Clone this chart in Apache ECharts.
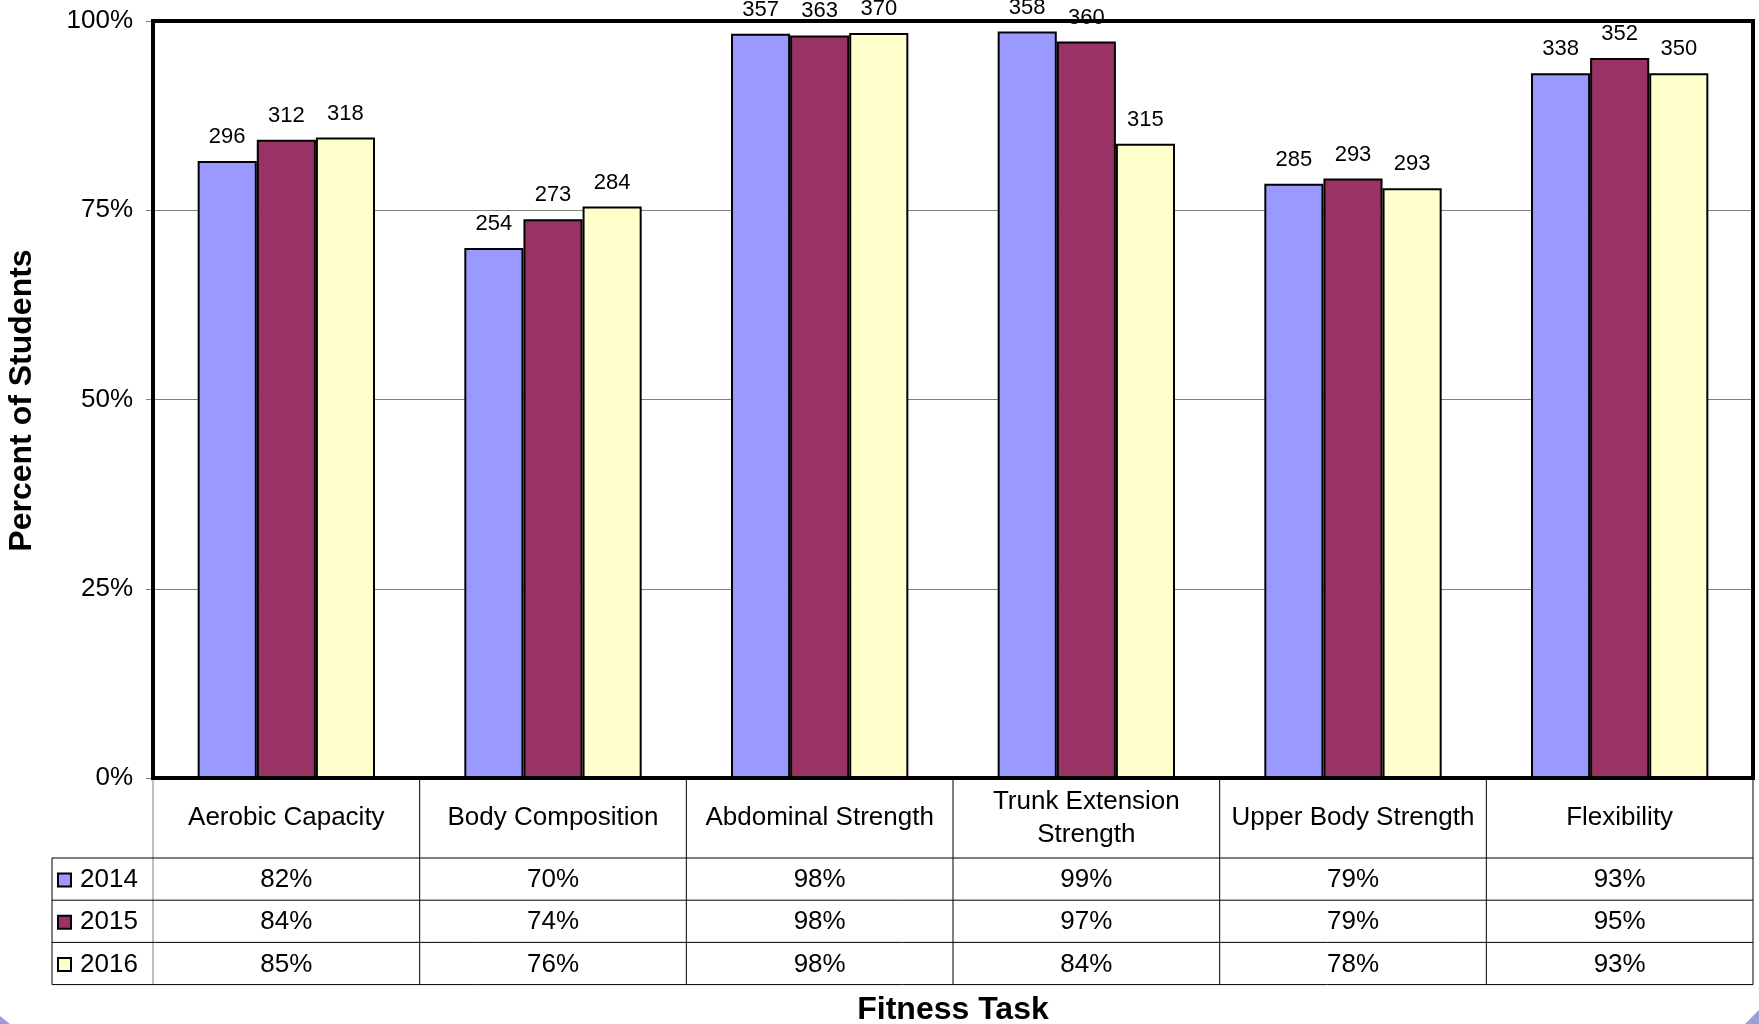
<!DOCTYPE html>
<html>
<head>
<meta charset="utf-8">
<script src="https://cdn.jsdelivr.net/npm/echarts@6/dist/echarts.min.js"></script>
<style>
  html, body { margin: 0; padding: 0; background: #ffffff; }
  #chart { width: 1759px; height: 1024px; }
</style>
</head>
<body>
<div id="chart"></div>
<script>
// Fitness tasks (x categories) and test years
const categories = ['Aerobic Capacity', 'Body Composition', 'Abdominal Strength',
                    'Trunk Extension\nStrength', 'Upper Body Strength', 'Flexibility'];
const years = ['2014', '2015', '2016'];

// Percent of students in the healthy fitness zone
const pct2014 = [81.5, 70.0, 98.3, 98.6, 78.5, 93.1];
const pct2015 = [84.3, 73.8, 98.1, 97.3, 79.2, 95.1];
const pct2016 = [84.6, 75.5, 98.4, 83.8, 77.9, 93.1];

// Number of students (shown above each bar)
const count2014 = [296, 254, 357, 358, 285, 338];
const count2015 = [312, 273, 363, 360, 293, 352];
const count2016 = [318, 284, 370, 315, 293, 350];

// Value-axis tick labels
const yTickValues = [0, 25, 50, 75, 100];
const yTickLabels = ['0%', '25%', '50%', '75%', '100%'];

const seriesColors = ['#9999FF', '#993366', '#FFFFCC'];
const pctByYear = [pct2014, pct2015, pct2016];
const countByYear = [count2014, count2015, count2016];

const FONT = '"Liberation Sans", Arial, Helvetica, sans-serif';

const chart = echarts.init(document.getElementById('chart'), null, { renderer: 'canvas' });

const GRID = { left: 153, right: 6, top: 21, bottom: 246 };
const CAT_ROW_H = 80;     // height of the category-name row under the plot
const VAL_ROW_H = 42.2;   // height of each data-table row
const TABLE_LEFT = 52;    // left edge of the legend column

const option = {
  backgroundColor: '#ffffff',
  animation: false,
  textStyle: { fontFamily: FONT },
  grid: GRID,
  legend: {
    data: years,
    orient: 'vertical',
    left: 57,
    top: 865,
    padding: 0,
    itemWidth: 13,
    itemHeight: 13,
    itemGap: VAL_ROW_H - 30,
    icon: 'rect',
    selectedMode: false,
    textStyle: { fontSize: 26, lineHeight: 30, color: '#000', fontFamily: FONT, padding: [0, 0, 0, 4] }
  },
  xAxis: {
    type: 'category',
    data: categories,
    axisLabel: { show: false },
    axisTick: { show: false },
    axisLine: { show: true, lineStyle: { color: '#000', width: 4 } },
    splitLine: { show: false }
  },
  yAxis: {
    type: 'value',
    min: 0,
    max: 100,
    interval: 25,
    axisLine: { show: true, lineStyle: { color: '#000', width: 4 } },
    axisTick: { show: true, length: 7, lineStyle: { color: '#808080', width: 1 } },
    axisLabel: {
      fontSize: 26,
      color: '#000',
      fontFamily: FONT,
      margin: 20,
      formatter: v => yTickLabels[yTickValues.indexOf(v)]
    },
    splitLine: { show: true, lineStyle: { color: '#808080', width: 1 } }
  },
  series: years.map((y, i) => ({
    type: 'bar',
    name: y,
    data: pctByYear[i],
    barGap: '0%',
    barCategoryGap: '33.5%',
    itemStyle: { color: seriesColors[i], borderColor: '#000', borderWidth: 2 },
    label: {
      show: true,
      position: 'top',
      distance: 13,
      fontSize: 22,
      color: '#000',
      fontFamily: FONT,
      formatter: p => String(countByYear[i][p.dataIndex])
    }
  }))
};

chart.setOption(option);

// Frame, data table and axis titles, placed from the grid's own coordinate system
const rect = chart.getModel().getComponent('grid').coordinateSystem.getRect();
const x0 = rect.x, x1 = rect.x + rect.width;
const yBase = rect.y + rect.height;
const colW = rect.width / categories.length;
const tableTop = yBase + CAT_ROW_H;
const tableBottom = tableTop + VAL_ROW_H * years.length;

const g = [];

// plot frame drawn over the bars
g.push({
  type: 'rect', z: 100,
  shape: { x: x0, y: rect.y, width: rect.width, height: rect.height },
  style: { fill: 'none', stroke: '#000', lineWidth: 4 }
});

// column separators
for (let k = 0; k <= categories.length; k++) {
  const x = x0 + k * colW;
  g.push({
    type: 'line', z: 50,
    shape: { x1: x, y1: yBase, x2: x, y2: tableBottom },
    style: { stroke: k === 0 ? '#808080' : '#000', lineWidth: 1 }
  });
}
// legend column left edge
g.push({
  type: 'line', z: 50,
  shape: { x1: TABLE_LEFT, y1: tableTop, x2: TABLE_LEFT, y2: tableBottom },
  style: { stroke: '#000', lineWidth: 1 }
});
// row separators
for (let j = 0; j <= years.length; j++) {
  const y = tableTop + j * VAL_ROW_H;
  g.push({
    type: 'line', z: 50,
    shape: { x1: TABLE_LEFT, y1: y, x2: x1, y2: y },
    style: { stroke: '#000', lineWidth: 1 }
  });
}

// category names and table values
categories.forEach((name, c) => {
  const cx = chart.convertToPixel({ xAxisIndex: 0 }, c);
  g.push({
    type: 'text', z: 60,
    style: {
      x: cx, y: yBase + CAT_ROW_H / 2, text: name,
      align: 'center', verticalAlign: 'middle',
      font: '26px ' + FONT, lineHeight: 33, fill: '#000'
    }
  });
  years.forEach((yr, j) => {
    g.push({
      type: 'text', z: 60,
      style: {
        x: cx, y: tableTop + (j + 0.5) * VAL_ROW_H + 1,
        text: Math.round(pctByYear[j][c]) + '%',
        align: 'center', verticalAlign: 'middle',
        font: '26px ' + FONT, fill: '#000'
      }
    });
  });
});

// axis titles
g.push({
  type: 'text', z: 60,
  x: 22, y: (rect.y + yBase) / 2 + 1, rotation: Math.PI / 2,
  style: {
    x: 0, y: 0, text: 'Percent of Students',
    align: 'center', verticalAlign: 'middle',
    font: 'bold 32px ' + FONT, fill: '#000'
  }
});
g.push({
  type: 'text', z: 60,
  style: {
    x: (x0 + x1) / 2, y: 1010, text: 'Fitness Task',
    align: 'center', verticalAlign: 'middle',
    font: 'bold 32px ' + FONT, fill: '#000'
  }
});

// lavender page-frame corners
g.push({
  type: 'polygon', z: 1,
  shape: { points: [[0, 1016], [0, 1024], [10, 1024]] },
  style: { fill: '#9d9dd8' }
});
g.push({
  type: 'polygon', z: 1,
  shape: { points: [[1759, 1010], [1759, 1024], [1745, 1024]] },
  style: { fill: '#9d9dd8' }
});

chart.setOption({ graphic: { elements: g } });
</script>
</body>
</html>
